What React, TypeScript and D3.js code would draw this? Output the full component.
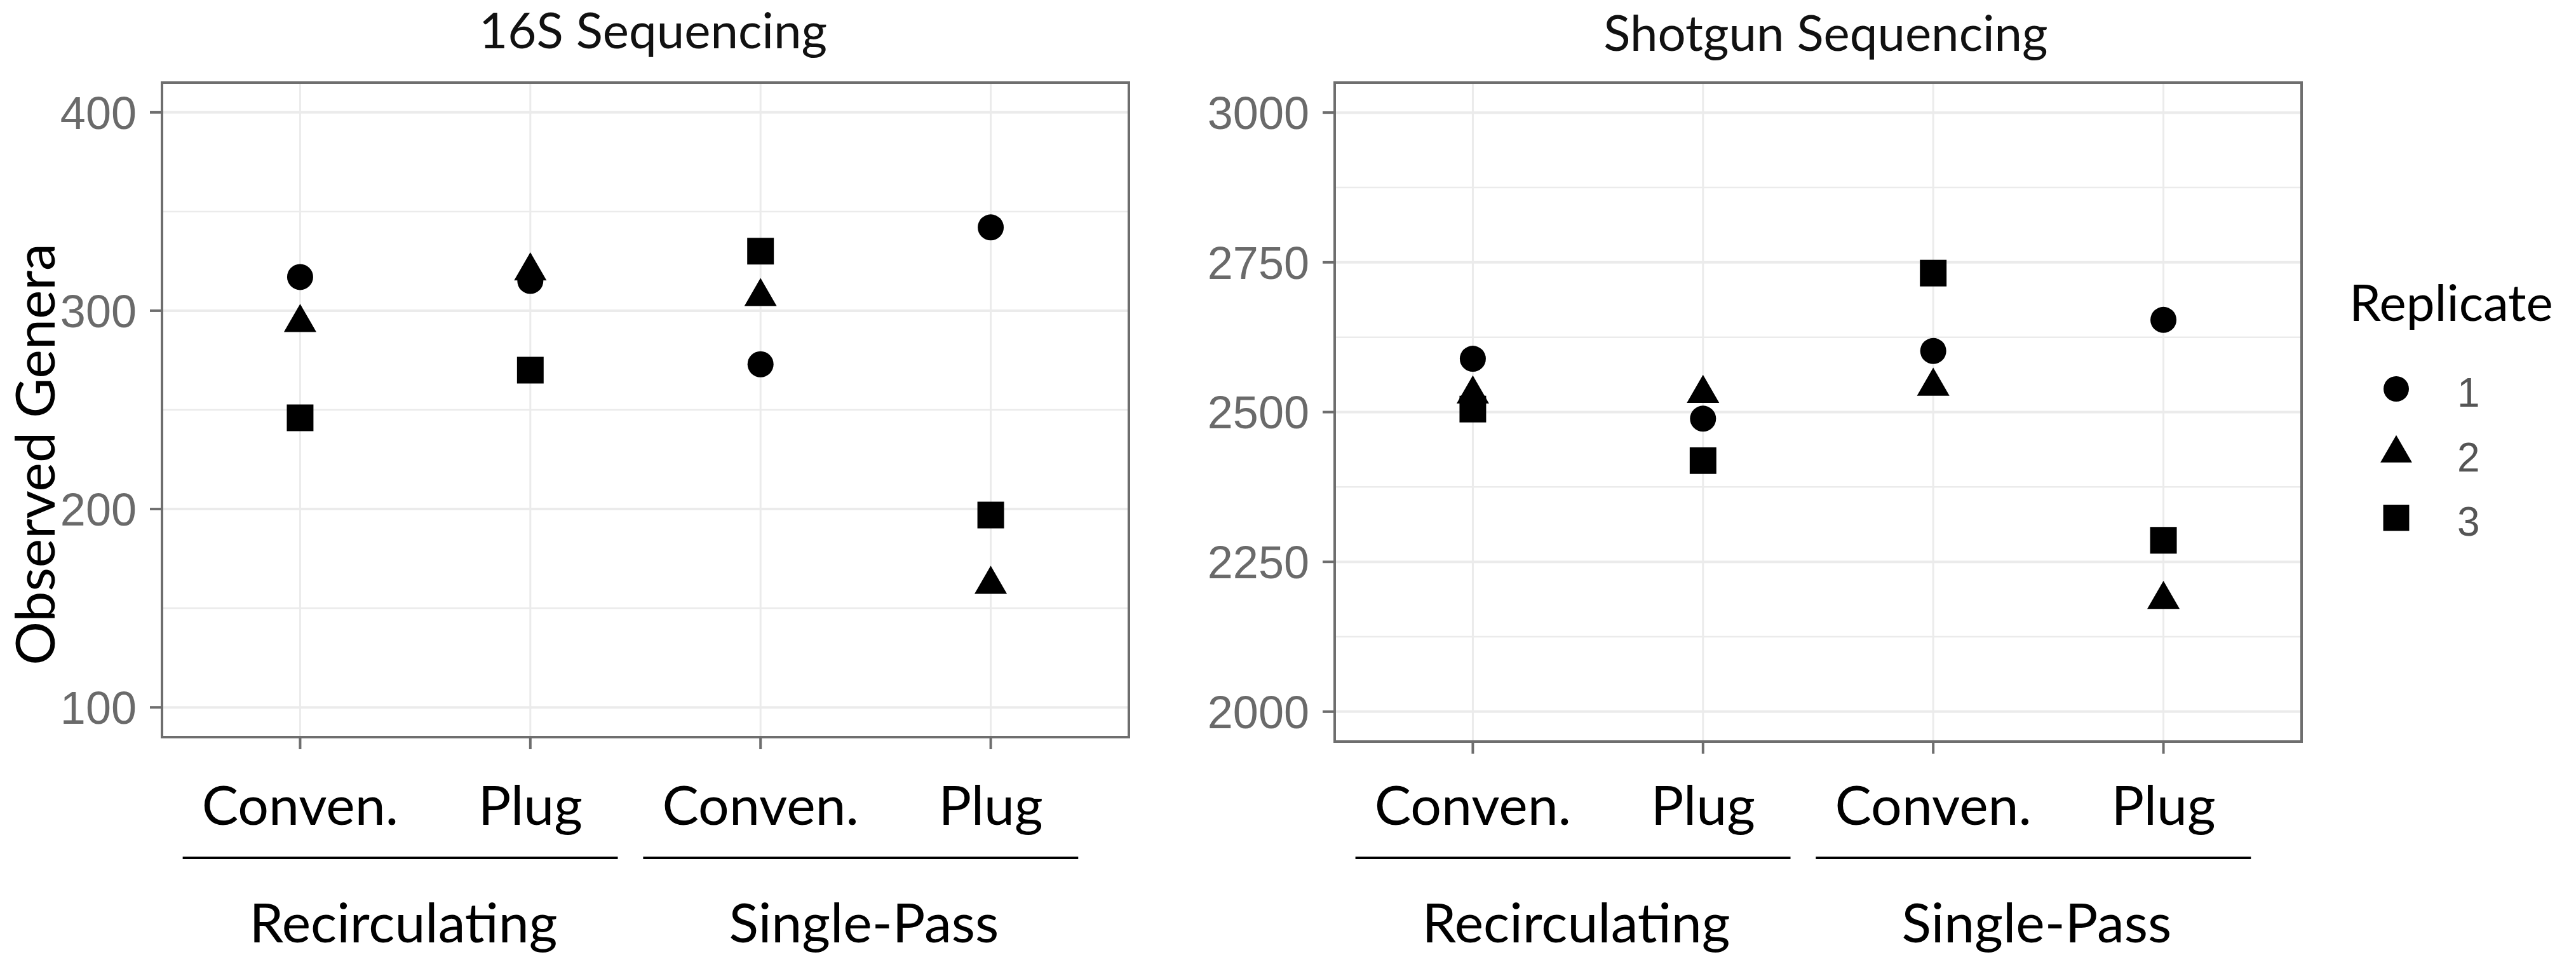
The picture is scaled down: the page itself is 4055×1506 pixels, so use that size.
import React from "react";
import * as d3 from "d3";

// ---------- data ----------
const categories = ["Recirculating|Conven.", "Recirculating|Plug", "Single-Pass|Conven.", "Single-Pass|Plug"];
const tickLabels = ["Conven.", "Plug", "Conven.", "Plug"];
const groupLabels = ["Recirculating", "Single-Pass"];
const replicates = ["1", "2", "3"];

const seq16S_rep1 = [317, 315, 273, 342];
const seq16S_rep2 = [294, 320, 307, 162];
const seq16S_rep3 = [246, 270, 330, 197];

const shotgun_rep1 = [2589, 2489, 2602, 2654];
const shotgun_rep2 = [2530, 2531, 2543, 2187];
const shotgun_rep3 = [2505, 2419, 2732, 2286];

const ticks16S = [100, 200, 300, 400];
const minor16S = [150, 250, 350];
const ticksShotgun = [2000, 2250, 2500, 2750, 3000];
const minorShotgun = [2125, 2375, 2625, 2875];

const W = 4055;
const H = 1506;
const LABEL_FONT = "Lato, 'Noto Sans', sans-serif";
const TICK_FONT = "'Liberation Sans', Arial, sans-serif";
const BORDER = "#6e6e6e";
const GRID = "#ebebeb";

const shapeTypes = [d3.symbolCircle, d3.symbolTriangle, d3.symbolSquare];
const shapeSizes = [1320, 1130, 1760];
const symbolPath = (i: number, scale = 1) =>
  d3.symbol().type(shapeTypes[i]).size(shapeSizes[i] * scale)() as string;

type PanelProps = {
  title: string;
  titleY: number;
  left: number;
  right: number;
  top: number;
  bottom: number;
  domain: [number, number];
  ticks: number[];
  minor: number[];
  series: number[][];
};

function Panel(p: PanelProps) {
  const x = d3.scalePoint<string>().domain(categories).range([p.left, p.right]).padding(0.6);
  const y = d3.scaleLinear().domain(p.domain).range([p.bottom, p.top]);
  const step = x.step();
  const cx = (p.left + p.right) / 2;
  const groups = groupLabels.map((g, gi) => {
    const a = x(categories[gi * 2])!;
    const b = x(categories[gi * 2 + 1])!;
    return { label: g, x1: a - step * 0.51, x2: b + step * 0.38 };
  });
  return (
    <g>
      <text x={cx + 12} y={p.titleY} fontFamily={LABEL_FONT} fontSize={78} textAnchor="middle" fill="#111">
        {p.title}
      </text>
      {/* grid */}
      {p.minor.map((v) => (
        <line key={"mi" + v} x1={p.left} x2={p.right} y1={y(v)} y2={y(v)} stroke={GRID} strokeWidth={2.5} />
      ))}
      {p.ticks.map((v) => (
        <line key={"ma" + v} x1={p.left} x2={p.right} y1={y(v)} y2={y(v)} stroke={GRID} strokeWidth={4} />
      ))}
      {categories.map((c) => (
        <line key={"vg" + c} x1={x(c)} x2={x(c)} y1={p.top} y2={p.bottom} stroke={GRID} strokeWidth={3} />
      ))}
      {/* points */}
      {p.series.map((vals, si) =>
        vals.map((v, ci) => (
          <path
            key={"p" + si + "-" + ci}
            d={symbolPath(si)}
            transform={`translate(${x(categories[ci])},${y(v)})`}
            fill="#000"
          />
        ))
      )}
      {/* border */}
      <rect x={p.left} y={p.top} width={p.right - p.left} height={p.bottom - p.top} fill="none" stroke={BORDER} strokeWidth={4} />
      {/* y axis ticks */}
      {p.ticks.map((v) => (
        <g key={"yt" + v}>
          <line x1={p.left - 19} x2={p.left} y1={y(v)} y2={y(v)} stroke={BORDER} strokeWidth={4} />
          <text x={p.left - 40} y={y(v)} dy="0.36em" textAnchor="end" fontFamily={TICK_FONT} fontSize={72} fill="#6a6a6a">
            {v}
          </text>
        </g>
      ))}
      {/* x axis ticks */}
      {categories.map((c, i) => (
        <g key={"xt" + c}>
          <line x1={x(c)} x2={x(c)} y1={p.bottom} y2={p.bottom + 19} stroke={BORDER} strokeWidth={4} />
          <text x={x(c)} y={1298} textAnchor="middle" fontFamily={LABEL_FONT} fontSize={86} fill="#000">
            {tickLabels[i]}
          </text>
        </g>
      ))}
      {/* group brackets */}
      {groups.map((g) => (
        <g key={"g" + g.label}>
          <line x1={g.x1} x2={g.x2} y1={1350} y2={1350} stroke="#000" strokeWidth={4} />
          <text x={(g.x1 + g.x2) / 2 + 5} y={1483} textAnchor="middle" fontFamily={LABEL_FONT} fontSize={86} fill="#000">
            {g.label}
          </text>
        </g>
      ))}
    </g>
  );
}

export default function App() {
  const legendKeyX = 3772;
  const legendY = d3.scalePoint<string>().domain(replicates).range([612, 815]);
  return (
    <svg
      width={W}
      height={H}
      viewBox={`0 0 ${W} ${H}`}
      style={{ position: "absolute", left: 0, top: 0, background: "#fff" }}
    >
      <rect x={0} y={0} width={W} height={H} fill="#fff" />
      <Panel
        title="16S Sequencing"
        titleY={76}
        left={255}
        right={1777}
        top={130}
        bottom={1160}
        domain={[85, 415]}
        ticks={ticks16S}
        minor={minor16S}
        series={[seq16S_rep1, seq16S_rep2, seq16S_rep3]}
      />
      <Panel
        title="Shotgun Sequencing"
        titleY={80}
        left={2101}
        right={3623}
        top={130}
        bottom={1167}
        domain={[1950, 3050]}
        ticks={ticksShotgun}
        minor={minorShotgun}
        series={[shotgun_rep1, shotgun_rep2, shotgun_rep3]}
      />
      <text
        transform="translate(86,715) rotate(-90)"
        textAnchor="middle"
        fontFamily={LABEL_FONT}
        fontSize={86}
        fill="#000"
      >
        Observed Genera
      </text>
      {/* legend */}
      <text x={3698} y={505} fontFamily={LABEL_FONT} fontSize={80} fill="#000">
        Replicate
      </text>
      {replicates.map((r, i) => (
        <g key={"lg" + r}>
          <path d={symbolPath(i, 0.95)} transform={`translate(${legendKeyX},${legendY(r)})`} fill="#000" />
          <text x={3868} y={legendY(r)! + 28} fontFamily={TICK_FONT} fontSize={64} fill="#555">
            {r}
          </text>
        </g>
      ))}
    </svg>
  );
}
